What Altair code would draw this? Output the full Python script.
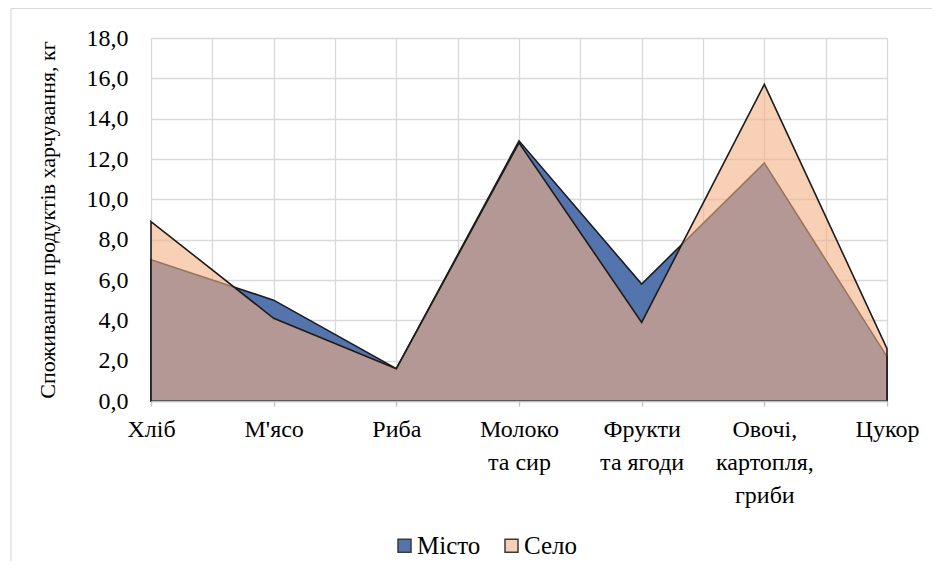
import json
import altair as alt
import pandas as pd

# ---- data ----
categories = ["Хліб", "М'ясо", "Риба", "Молоко\nта сир", "Фрукти\nта ягоди",
              "Овочі,\nкартопля,\nгриби", "Цукор"]
misto = [7.0, 5.0, 1.6, 12.9, 5.8, 11.8, 2.2]
selo = [8.9, 4.1, 1.6, 12.8, 3.9, 15.7, 2.6]
series_names = ["Місто", "Село"]
y_ticks = [0, 2, 4, 6, 8, 10, 12, 14, 16, 18]
y_title = "Споживання продуктів харчування, кг"

rows = []
for i, c in enumerate(categories):
    rows.append({"idx": i, "cat": c, "value": misto[i], "series": series_names[0]})
for i, c in enumerate(categories):
    rows.append({"idx": i, "cat": c, "value": selo[i], "series": series_names[1]})
df = pd.DataFrame(rows)

FONT = "Liberation Serif"
BLUE = "#5474AE"
PEACH = "#F4B183"
PEACH_ON_WHITE = "#F8D0B5"   # PEACH at 60 % over white, as shown in the legend
SELO_OPACITY = 0.6
STROKE = "#1c1c1c"
GRID = "#D9D9D9"
FS = 24

n = len(categories)
half_steps = [i / 2 for i in range(2 * (n - 1) + 1)]
int_steps = list(range(n))
label_lines = [c.split("\n") for c in categories]
x_label_expr = json.dumps(label_lines, ensure_ascii=False) + "[datum.value]"

x_scale = alt.Scale(domain=[0, n - 1], nice=False, zero=False)
y_scale = alt.Scale(domain=[0, 18], nice=False)

legend = alt.Legend(
    title=None, orient="none", legendX=241, legendY=495, direction="horizontal",
    symbolType="square", symbolSize=169, symbolStrokeColor="#3a3a3a",
    symbolStrokeWidth=1.5, symbolOpacity=1, labelFont=FONT, labelFontSize=25,
    labelColor="#000000", labelOffset=0, columnPadding=18,
)

grid_axis = alt.Axis(values=half_steps, grid=True, gridColor=GRID, gridWidth=1.3,
                     ticks=False, labels=False, domain=False, title=None,
                     orient="bottom", zindex=0)
label_axis = alt.Axis(values=int_steps, grid=False, ticks=True, tickSize=5,
                      tickColor="#BFBFBF", tickWidth=1.3, domain=True,
                      domainColor="#BFBFBF", domainWidth=1.5, labels=True,
                      labelExpr=x_label_expr, labelFont=FONT, labelFontSize=FS,
                      labelColor="#000000", labelLineHeight=33, labelPadding=11,
                      labelAlign="center", labelBaseline="top", title=None,
                      orient="bottom", zindex=1)
y_axis = alt.Axis(values=y_ticks, grid=True, gridColor=GRID, gridWidth=1.3,
                  ticks=False, domain=False, labelFont=FONT, labelFontSize=FS,
                  labelColor="#000000", labelPadding=23,
                  labelExpr="replace(format(datum.value, '.1f'), '.', ',')",
                  title=y_title, titleFont=FONT, titleFontSize=22,
                  titleFontWeight="normal", titleColor="#000000", titlePadding=27)

border = alt.Chart(alt.Data(values=[{}])).mark_rect(
    fillOpacity=0, stroke=GRID, strokeWidth=1.2
).encode(x=alt.value(-140), x2=alt.value(1000), y=alt.value(-29.5), y2=alt.value(800))

base = alt.Chart(df)

misto_layer = base.transform_filter(
    alt.datum.series == series_names[0]
).mark_area(fill=BLUE, stroke=STROKE, strokeWidth=1.6, strokeJoin="miter").encode(
    x=alt.X("idx:Q", scale=x_scale, axis=grid_axis),
    y=alt.Y("value:Q", scale=y_scale, axis=y_axis, stack=None),
)

selo_layer = base.transform_filter(
    alt.datum.series == series_names[1]
).mark_area(fill=PEACH, fillOpacity=SELO_OPACITY, stroke=STROKE, strokeWidth=1.6,
            strokeJoin="miter").encode(
    x=alt.X("idx:Q", scale=x_scale, axis=label_axis),
    y=alt.Y("value:Q", scale=y_scale, axis=y_axis, stack=None),
)

# invisible points that only carry the legend
legend_layer = base.mark_square(size=0).encode(
    x=alt.X("idx:Q", scale=x_scale, axis=None),
    y=alt.Y("value:Q", scale=y_scale, axis=y_axis),
    color=alt.Color("series:N",
                    scale=alt.Scale(domain=series_names, range=[BLUE, PEACH_ON_WHITE]),
                    legend=legend),
)

chart = alt.layer(border, misto_layer, selo_layer, legend_layer).resolve_axis(
    x="independent"
).properties(
    width=736, height=363,
    padding={"left": 143, "top": 30, "right": 45, "bottom": 160},
    autosize=alt.AutoSizeParams(type="none"),
).configure_view(stroke=None).configure(font=FONT).configure_legend(
    labelFont=FONT, labelFontSize=25, labelColor="#000000"
).configure_axis(labelFont=FONT, titleFont=FONT)

chart.save("out.html", embed_options={"renderer": "svg", "actions": False})
